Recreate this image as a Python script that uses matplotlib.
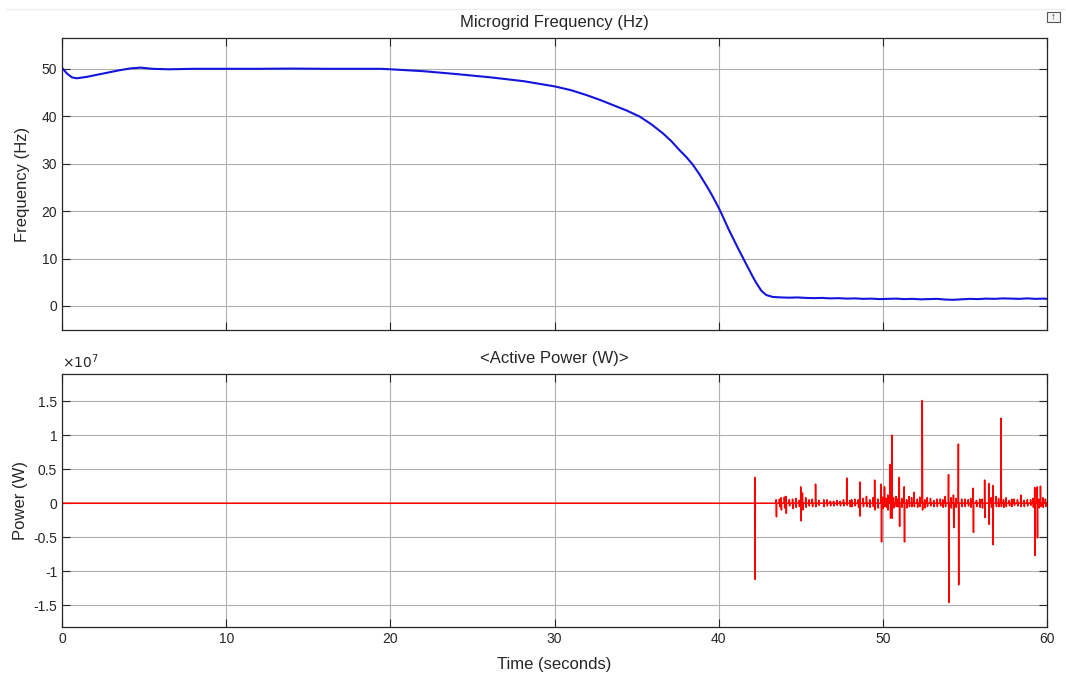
import matplotlib
matplotlib.use("Agg")
import matplotlib.pyplot as plt
from matplotlib.lines import Line2D
from matplotlib.patches import Rectangle
from matplotlib.ticker import FuncFormatter

# microgrid frequency trace (s, Hz)
freq_t = [0, 0.3, 0.6, 0.9, 1.5, 2.5, 3.5, 4.2, 4.8, 5.5, 6.5, 8, 10, 12, 14, 16, 18,
          19.4, 20, 22, 24, 26.1, 28.1, 30, 31, 32, 32.8, 33.6, 34.4, 35.2, 35.9, 36.6,
          37.1, 37.6, 38.0, 38.4, 38.8, 39.3, 39.6, 40, 40.3, 40.6, 40.9, 41.2, 41.5,
          41.8, 42.1, 42.3, 42.6, 42.9, 43.3,
          43.8, 44.3, 44.8, 45.3, 45.8, 46.3, 46.8, 47.3, 47.8, 48.3, 48.8, 49.3,
          49.8, 50.3, 50.8, 51.3, 51.8, 52.3, 52.8, 53.3, 53.8, 54.3, 54.8, 55.3,
          55.8, 56.3, 56.8, 57.3, 57.8, 58.3, 58.8, 59.3, 59.8, 60]
freq_hz = [50.2, 49.0, 48.2, 48.0, 48.3, 49.0, 49.7, 50.1, 50.25, 50.0, 49.9, 50.0, 50.0, 50.0, 50.05, 50.0, 50.0,
           50.0, 49.9, 49.5, 48.9, 48.2, 47.4, 46.3, 45.5, 44.4, 43.4, 42.3, 41.2, 39.9, 38.3, 36.4,
           34.8, 32.9, 31.5, 29.9, 27.9, 25.1, 23.3, 20.7, 18.5, 16.2, 14.1, 12.0, 10.0,
           8.0, 6.0, 4.8, 3.2, 2.3, 1.9,
           1.8, 1.75, 1.8, 1.7, 1.65, 1.7, 1.6, 1.65, 1.55, 1.6, 1.5, 1.55,
           1.45, 1.5, 1.55, 1.45, 1.5, 1.4, 1.45, 1.5, 1.35, 1.3, 1.4, 1.5,
           1.45, 1.55, 1.5, 1.6, 1.55, 1.5, 1.6, 1.5, 1.55, 1.5]

# active power excursions: time (s), upper and lower peak (W)
spike_t = [42.2, 43.5, 43.8, 44.1, 44.5, 45.0, 45.1, 45.9, 46.4, 47.0, 47.8, 48.1,
           48.6, 49.0, 49.5, 49.9, 50.1, 50.3, 50.45, 50.55, 50.8, 51.0, 51.3, 51.6,
           51.9, 52.4, 52.7, 53.3, 53.8, 54.0, 54.3, 54.6, 55.0, 55.5, 55.9, 56.2,
           56.45, 56.7, 56.9, 57.2, 57.5, 58.0, 58.4, 59.0, 59.25, 59.4, 59.6, 59.9]
spike_hi = [0.38e7, 0.05e7, 0.08e7, 0.10e7, 0.06e7, 0.24e7, 0.15e7, 0.28e7, 0.05e7, 0.03e7, 0.37e7, 0.05e7,
            0.31e7, 0.10e7, 0.34e7, 0.28e7, 0.24e7, 0.12e7, 0.57e7, 1.00e7, 0.10e7, 0.38e7, 0.24e7, 0.10e7,
            0.16e7, 1.51e7, 0.08e7, 0.06e7, 0.10e7, 0.42e7, 0.12e7, 0.87e7, 0.06e7, 0.22e7, 0.06e7, 0.34e7,
            0.29e7, 0.26e7, 0.10e7, 1.25e7, 0.08e7, 0.06e7, 0.12e7, 0.05e7, 0.23e7, 0.24e7, 0.25e7, 0.06e7]
spike_lo = [-1.12e7, -0.20e7, -0.10e7, -0.15e7, -0.08e7, -0.26e7, -0.10e7, -0.05e7, -0.05e7, -0.04e7, -0.03e7, -0.05e7,
            -0.19e7, -0.05e7, -0.10e7, -0.57e7, -0.05e7, -0.10e7, -0.22e7, -0.22e7, -0.05e7, -0.34e7, -0.57e7, -0.05e7,
            -0.05e7, -0.10e7, -0.05e7, -0.05e7, -0.05e7, -1.46e7, -0.36e7, -1.20e7, -0.05e7, -0.43e7, -0.06e7, -0.21e7,
            -0.31e7, -0.61e7, -0.05e7, -0.05e7, -0.05e7, -0.03e7, -0.05e7, -0.03e7, -0.77e7, -0.51e7, -0.05e7, -0.05e7]

# low-level ripple riding on the trace after the collapse (s, W)
ripple_t = [43.7, 44.0, 44.3, 44.7, 44.9, 45.3, 45.5, 45.7, 46.1, 46.6, 46.8, 47.2, 47.4,
            47.6, 48.0, 48.3, 48.5, 48.8, 49.2, 49.4, 49.7, 50.0, 50.2, 50.65, 50.9, 51.15,
            51.45, 51.75, 52.1, 52.25, 52.55, 52.9, 53.1, 53.5, 53.65, 54.15, 54.45, 54.8,
            55.2, 55.35, 55.7, 56.05, 56.6, 57.05, 57.35, 57.7, 57.85, 58.2, 58.6, 58.8,
            59.15, 59.5, 59.75]
ripple_hi = [0.06e7, 0.09e7, 0.05e7, 0.07e7, 0.04e7, 0.08e7, 0.05e7, 0.06e7, 0.04e7, 0.05e7, 0.03e7, 0.04e7, 0.03e7,
             0.05e7, 0.04e7, 0.06e7, 0.05e7, 0.07e7, 0.05e7, 0.08e7, 0.06e7, 0.09e7, 0.07e7, 0.08e7, 0.06e7, 0.07e7,
             0.05e7, 0.08e7, 0.06e7, 0.09e7, 0.05e7, 0.07e7, 0.04e7, 0.06e7, 0.05e7, 0.08e7, 0.07e7, 0.06e7,
             0.05e7, 0.07e7, 0.04e7, 0.06e7, 0.08e7, 0.07e7, 0.05e7, 0.04e7, 0.06e7, 0.05e7, 0.04e7, 0.05e7,
             0.07e7, 0.06e7, 0.08e7]
ripple_lo = [-0.05e7, -0.07e7, -0.04e7, -0.06e7, -0.05e7, -0.06e7, -0.04e7, -0.05e7, -0.03e7, -0.04e7, -0.04e7, -0.03e7, -0.04e7,
             -0.04e7, -0.05e7, -0.04e7, -0.06e7, -0.05e7, -0.06e7, -0.05e7, -0.07e7, -0.08e7, -0.06e7, -0.07e7, -0.05e7, -0.06e7,
             -0.07e7, -0.05e7, -0.06e7, -0.05e7, -0.07e7, -0.04e7, -0.05e7, -0.04e7, -0.06e7, -0.07e7, -0.06e7, -0.05e7,
             -0.04e7, -0.06e7, -0.05e7, -0.07e7, -0.06e7, -0.05e7, -0.06e7, -0.04e7, -0.05e7, -0.04e7, -0.05e7, -0.04e7,
             -0.06e7, -0.07e7, -0.06e7]

# build the power trace: flat zero with each excursion going up then down
events = sorted(zip(spike_t + ripple_t, spike_hi + ripple_hi, spike_lo + ripple_lo))
pow_t = [0.0]
pow_w = [0.0]
for t, hi, lo in events:
    pow_t += [t - 0.01, t, t + 0.02, t + 0.03]
    pow_w += [0.0, hi, lo, 0.0]
pow_t.append(60.0)
pow_w.append(0.0)

plt.rcParams['font.family'] = ['Liberation Sans', 'DejaVu Sans']
plt.rcParams['axes.unicode_minus'] = False

fig = plt.figure(figsize=(10.66, 6.77), dpi=100)
ax1 = fig.add_axes([0.0582, 0.5126, 0.924, 0.4313])
ax2 = fig.add_axes([0.0582, 0.0739, 0.924, 0.3737])

edge = '#262626'
for ax in (ax1, ax2):
    ax.set_xlim(0, 60)
    ax.set_xticks([0, 10, 20, 30, 40, 50, 60])
    ax.grid(True, color='#b0b0b0', linewidth=0.8)
    ax.set_axisbelow(True)
    ax.tick_params(direction='in', length=6, width=0.8, top=True, right=True,
                   labelsize=10, colors=edge, labelcolor='#262626')
    for s in ax.spines.values():
        s.set_color(edge)
        s.set_linewidth(0.9)

ax1.plot(freq_t, freq_hz, color='#1414dc', linewidth=1.5)
ax1.set_ylim(-5.06, 56.5)
ax1.set_yticks([0, 10, 20, 30, 40, 50])
ax1.tick_params(labelbottom=False)
ax1.set_ylabel('Frequency (Hz)', fontsize=12, color='#262626', labelpad=8)
ax1.set_title('Microgrid Frequency (Hz)', fontsize=12, color='#262626', pad=8)

ax2.plot(pow_t, [w / 1e7 for w in pow_w], color='#ff0000', linewidth=1.1)
ax2.set_ylim(-1.82, 1.9)
ax2.set_yticks([-1.5, -1, -0.5, 0, 0.5, 1, 1.5])
ax2.yaxis.set_major_formatter(FuncFormatter(lambda v, p: '%g' % v))
ax2.set_ylabel('Power (W)', fontsize=12, color='#262626', labelpad=4)
ax2.set_xlabel('Time (seconds)', fontsize=12, color='#262626', labelpad=8)
ax2.set_title('<Active Power (W)>', fontsize=12, color='#262626', pad=8)
ax2.text(0.0, 1.012, r'$\times10^{7}$', transform=ax2.transAxes, fontsize=10,
         color='#262626', ha='left', va='bottom')

# toolbar separator and restore button along the top edge
fig.add_artist(Line2D([0.006, 1.0], [0.986, 0.986], color='#ececec', linewidth=1))
fig.add_artist(Rectangle((0.9825, 0.9675), 0.0115, 0.0155, facecolor='#f4f4f4',
                         edgecolor='#555555', linewidth=0.8))
fig.text(0.9883, 0.975, '\u2191', fontsize=7, ha='center', va='center', color='#333333')

fig.savefig('out.png', dpi=100)
